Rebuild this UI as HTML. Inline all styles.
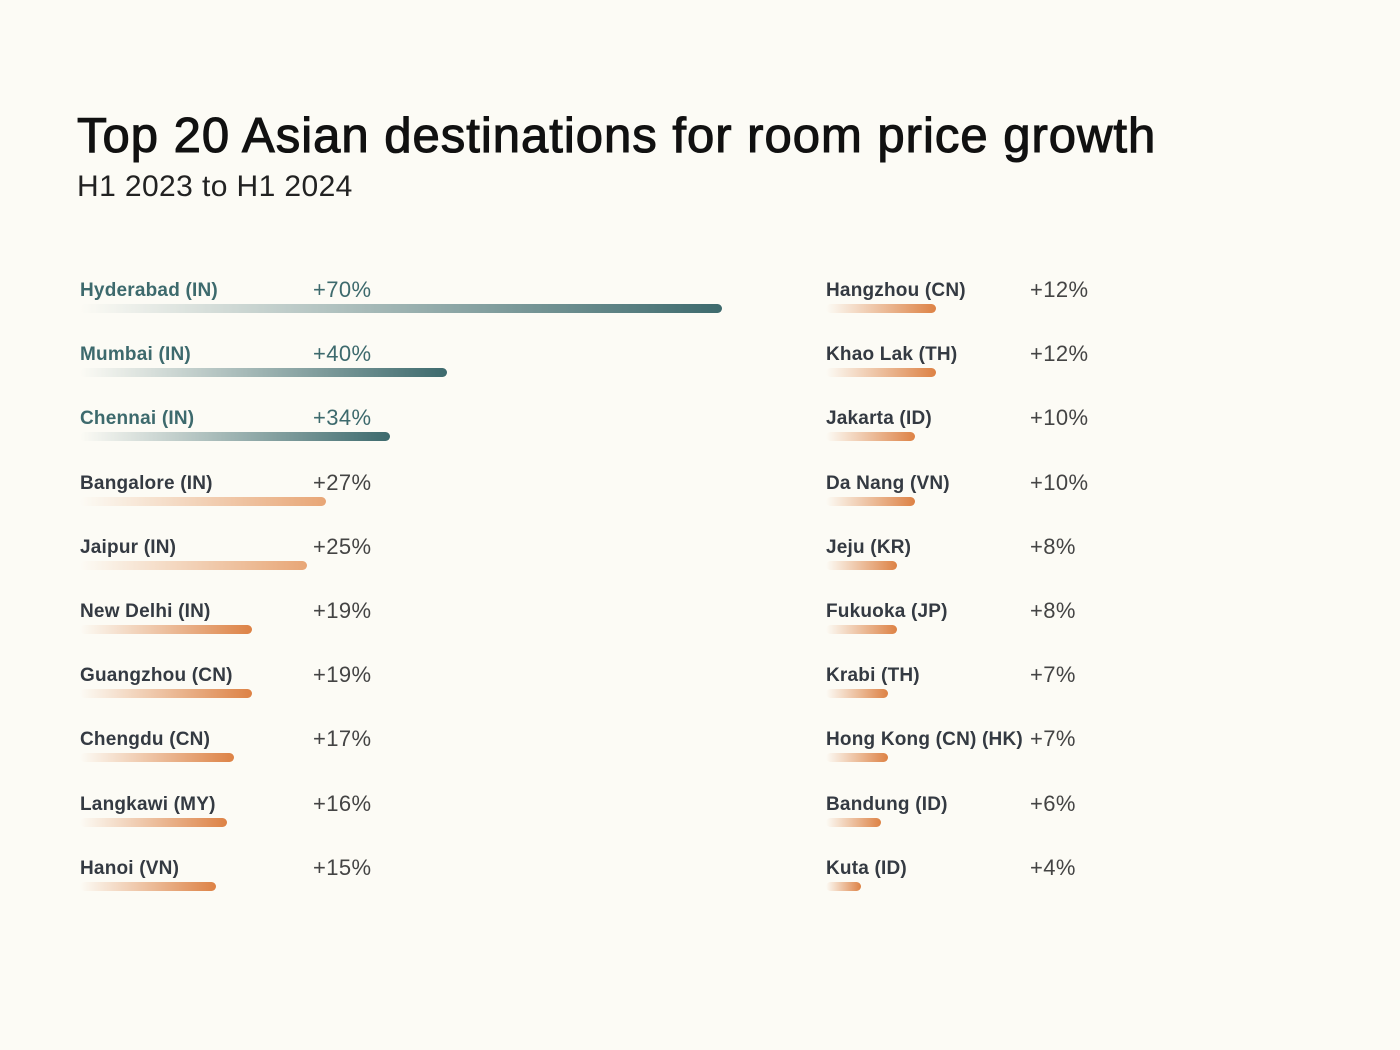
<!DOCTYPE html>
<html><head><meta charset="utf-8"><style>
body{margin:0;width:1400px;height:1050px;background:#fcfbf5;font-family:"Liberation Sans",sans-serif;position:relative;overflow:hidden}
.t{position:absolute;left:77px;top:108px;font-size:49px;font-weight:normal;-webkit-text-stroke:1.1px #111;color:#111;letter-spacing:1px}
.s{position:absolute;left:77px;top:170px;font-size:30px;color:#222;letter-spacing:0.4px}
.l{position:absolute;font-size:19px;font-weight:bold;color:#343a42;letter-spacing:0.2px}
.v{position:absolute;font-size:22px;color:#444;letter-spacing:0.4px}
.b{position:absolute;height:9px;border-radius:5px}
.teal .l{color:#3d6a6d}.teal .v{color:#3d6a6d}
</style></head><body>
<div class="t">Top 20 Asian destinations for room price growth</div>
<div class="s">H1 2023 to H1 2024</div>
<div id="c"></div>
<script>
var L=[["Hyderabad (IN)","+70%",722,2],["Mumbai (IN)","+40%",447,2],["Chennai (IN)","+34%",390,2],["Bangalore (IN)","+27%",326,1],["Jaipur (IN)","+25%",307,1],["New Delhi (IN)","+19%",252,0],["Guangzhou (CN)","+19%",252,0],["Chengdu (CN)","+17%",234,0],["Langkawi (MY)","+16%",227,0],["Hanoi (VN)","+15%",216,0]];
var R=[["Hangzhou (CN)","+12%",936],["Khao Lak (TH)","+12%",936],["Jakarta (ID)","+10%",915],["Da Nang (VN)","+10%",915],["Jeju (KR)","+8%",897],["Fukuoka (JP)","+8%",897],["Krabi (TH)","+7%",888],["Hong Kong (CN) (HK)","+7%",888],["Bandung (ID)","+6%",881],["Kuta (ID)","+4%",861]];
var h="";
function row(d,i,x0,vx){var y=i*64.2;var c=d[3]==2?"#3d6a6d":d[3]==1?"#e8a676":"#dd8245";
h+='<div class="'+(d[3]==2?'teal':'')+'"><div class="l" style="left:'+x0+'px;top:'+(280+y)+'px">'+d[0]+'</div><div class="v" style="left:'+vx+'px;top:'+(277+y)+'px">'+d[1]+'</div></div>';
h+='<div class="b" style="left:'+x0+'px;top:'+(304+y)+'px;width:'+(d[2]-x0)+'px;background:linear-gradient(90deg,#fcfbf5,'+c+')"></div>';}
L.forEach(function(d,i){row(d,i,80,313)});
R.forEach(function(d,i){d[3]=0;row(d,i,826,1030)});
document.getElementById("c").innerHTML=h;
</script>
</body></html>
